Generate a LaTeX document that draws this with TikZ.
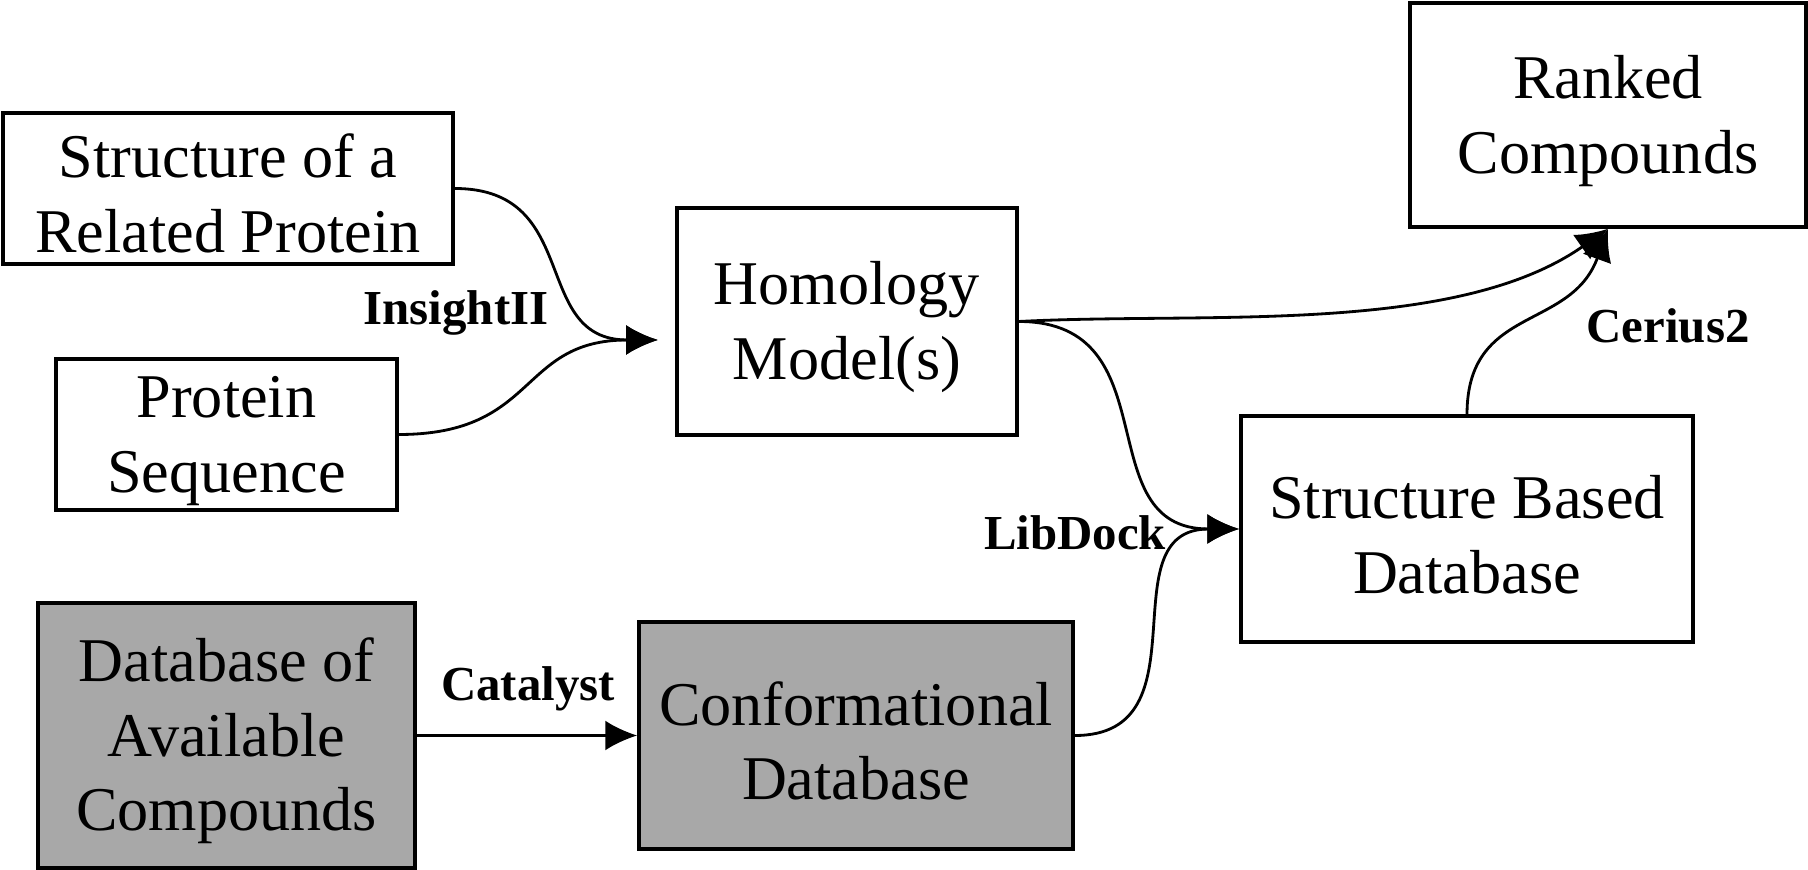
\documentclass[tikz,border=0pt]{standalone}
\usepackage{fontspec}
\setmainfont{Liberation Serif}
\usepackage{tikz}
\usetikzlibrary{arrows.meta,positioning,calc}
\newcommand{\boxstrut}{\rule{0pt}{15.5pt}}
\tikzset{>={Latex[length=3.2mm,width=3mm]}}
\tikzset{
  box/.style={draw, line width=1pt, inner sep=0pt, align=center,
    font=\fontsize{17.7}{21.3}\selectfont},
  dbbox/.style={box, fill={rgb,255:red,168;green,168;blue,168}},
  tool/.style={inner sep=0pt, anchor=base, font=\fontsize{13.9}{16}\selectfont\bfseries}
}

\begin{document}
\begin{tikzpicture}
\useasboundingbox (0,0) rectangle (18.08,8.69);
\node[box, minimum width=4.50cm, minimum height=1.51cm] (struct) at (2.28,6.805) {\boxstrut Structure of a\\Related Protein};
\node[box, minimum width=3.41cm, minimum height=1.51cm] (seq) at (2.265,4.345) {\boxstrut Protein\\Sequence};
\node[box, minimum width=3.40cm, minimum height=2.27cm] (homol) at (8.47,5.475) {\boxstrut Homology\\Model(s)};
\node[box, minimum width=3.96cm, minimum height=2.24cm] (ranked) at (16.08,7.54) {\boxstrut Ranked\\Compounds};
\node[box, minimum width=4.52cm, minimum height=2.26cm] (sbd) at (14.67,3.40) {\boxstrut Structure Based\\Database};
\node[dbbox, minimum width=3.77cm, minimum height=2.65cm] (avail) at (2.265,1.335) {\boxstrut Database of\\Available\\Compounds};
\node[dbbox, minimum width=4.34cm, minimum height=2.27cm] (conf) at (8.56,1.335) {\boxstrut Conformational\\Database};
\coordinate (hin) at (6.58,5.29);
\node[tool] (insight) at (4.56,5.44) {InsightII};
\node[tool] (catalyst) at (5.28,1.69) {Catalyst};
\node[tool] (libdock) at (10.75,3.19) {LibDock};
\node[tool] (cerius) at (16.68,5.26) {Cerius2};
\begin{scope}[line width = 0.8pt]
\draw[->] (struct.east) to [out=0,in=180,looseness=1.3] (hin);
\draw[->] (seq.east) to [out=0,in=180,looseness=1.3] (hin);
\draw[->] (avail) to (conf);
\draw[->] (homol.east) to [out=3,in=215,looseness=0.8] (ranked.south);
\draw[->] (homol.east) to [out=0,in=180,looseness=1.3] (sbd.west);
\draw[->] (conf.east) to [out=0,in=180,looseness=1.3] (sbd.west);
\draw[->] (sbd.north) to [out=90,in=250,looseness=1.2] (ranked.south);
\end{scope}
%\draw[help lines] (0,0) grid (18,8) ;
\end{tikzpicture}
\end{document}
